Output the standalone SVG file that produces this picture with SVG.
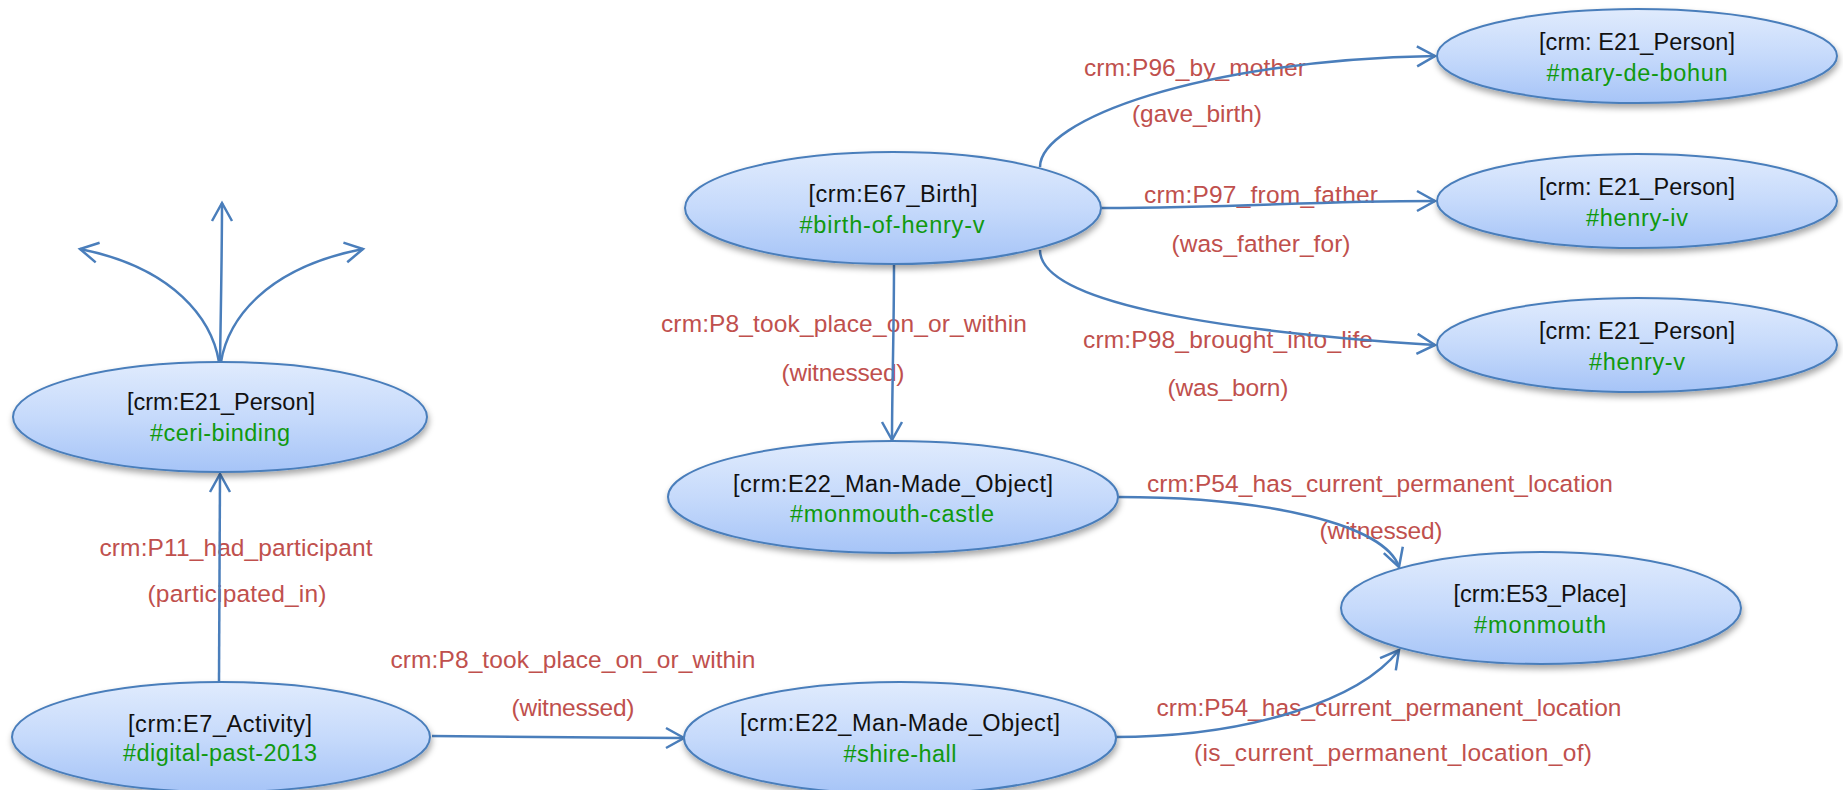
<svg xmlns="http://www.w3.org/2000/svg" width="1843" height="790" viewBox="0 0 1843 790">
  <style>
    .node ellipse { fill: url(#nodeFill); stroke: #4a7ebb; stroke-width: 2; filter: url(#shadow); }
    .node text { font-family: "Liberation Sans", Arial, sans-serif; font-size: 23.5px; text-anchor: middle; }
    .node .type { fill: #111111; }
    .node .id { fill: #10990f; }
    .edge { fill: none; stroke: #4a7ebb; stroke-width: 2.5; marker-end: url(#arrow); }
    .label { font-family: "Liberation Sans", Arial, sans-serif; font-size: 24.5px; fill: #c0504d; text-anchor: middle; }
  </style>
  <defs>
    <linearGradient id="nodeFill" x1="0" y1="0" x2="0" y2="1">
      <stop offset="0" stop-color="#e0ebfd"/>
      <stop offset="0.5" stop-color="#c6dafb"/>
      <stop offset="1" stop-color="#a6c4f7"/>
    </linearGradient>
    <filter id="shadow" x="-10%" y="-20%" width="120%" height="150%">
      <feDropShadow dx="1" dy="4" stdDeviation="3" flood-color="#000000" flood-opacity="0.35"/>
    </filter>
    <marker id="arrow" markerUnits="userSpaceOnUse" viewBox="-21 -12 24 24" markerWidth="24" markerHeight="24" refX="0" refY="0" orient="auto">
      <path d="M-18,-10 L0,0 L-18,10" fill="none" stroke="#4a7ebb" stroke-width="2.5" stroke-linejoin="miter"/>
    </marker>
  </defs>

  <rect width="1843" height="790" fill="#ffffff"/>

  <!-- property labels, then the arcs drawn over them -->
  <g id="connectors">
    <text class="label" x="1195" y="76" textLength="222">crm:P96_by_mother</text>
    <text class="label" x="1197" y="122" textLength="130">(gave_birth)</text>
    <text class="label" x="1261" y="203" textLength="234">crm:P97_from_father</text>
    <text class="label" x="1261" y="252" textLength="179">(was_father_for)</text>
    <text class="label" x="1228" y="348" textLength="290">crm:P98_brought_into_life</text>
    <text class="label" x="1228" y="396" textLength="121">(was_born)</text>
    <text class="label" x="844" y="332" textLength="366">crm:P8_took_place_on_or_within</text>
    <text class="label" x="843" y="381" textLength="123">(witnessed)</text>
    <text class="label" x="236" y="556" textLength="273">crm:P11_had_participant</text>
    <text class="label" x="237" y="602" textLength="179">(participated_in)</text>
    <text class="label" x="573" y="668" textLength="365">crm:P8_took_place_on_or_within</text>
    <text class="label" x="573" y="716" textLength="123">(witnessed)</text>
    <text class="label" x="1380" y="492" textLength="466">crm:P54_has_current_permanent_location</text>
    <text class="label" x="1381" y="539" textLength="123">(witnessed)</text>
    <text class="label" x="1389" y="716" textLength="465">crm:P54_has_current_permanent_location</text>
    <text class="label" x="1393" y="761" textLength="398">(is_current_permanent_location_of)</text>

    <!-- open-ended properties leaving the person node -->
    <path class="edge" d="M220,362 C221,300 222,250 222,203"/>
    <path class="edge" d="M219,362 C212,320 175,268 80,249"/>
    <path class="edge" d="M221,362 C228,320 265,268 363,249"/>

    <!-- birth event -->
    <path class="edge" d="M1040,167 C1040,120 1200,60 1435,56"/>
    <path class="edge" d="M1101,208 C1250,208 1300,201 1435,201"/>
    <path class="edge" d="M1040,250 C1040,300 1200,330 1435,345"/>
    <path class="edge" d="M894,264 C894,330 892,390 892,440"/>

    <!-- locations -->
    <path class="edge" d="M1118,497 C1270,497 1385,525 1399,567"/>
    <path class="edge" d="M1114,737 C1250,737 1360,700 1399,650"/>

    <!-- activity -->
    <path class="edge" d="M219,681 C220,600 220,530 220,474"/>
    <path class="edge" d="M432,736 C520,736 600,738 684,738"/>
  </g>

  <g id="ceri-binding" class="node">
    <ellipse cx="220" cy="417" rx="207" ry="55"/>
    <text class="type" x="221" y="410" textLength="188">[crm:E21_Person]</text>
    <text class="id" x="220" y="441" textLength="140">#ceri-binding</text>
  </g>

  <g id="birth-of-henry-v" class="node">
    <ellipse cx="893" cy="208" rx="208" ry="56"/>
    <text class="type" x="893" y="202" textLength="169">[crm:E67_Birth]</text>
    <text class="id" x="892" y="233" textLength="185">#birth-of-henry-v</text>
  </g>

  <g id="mary-de-bohun" class="node">
    <ellipse cx="1637" cy="56" rx="200" ry="47"/>
    <text class="type" x="1637" y="50" textLength="196">[crm: E21_Person]</text>
    <text class="id" x="1637" y="81" textLength="181">#mary-de-bohun</text>
  </g>

  <g id="henry-iv" class="node">
    <ellipse cx="1637" cy="201" rx="200" ry="47"/>
    <text class="type" x="1637" y="195" textLength="196">[crm: E21_Person]</text>
    <text class="id" x="1637" y="226" textLength="102">#henry-iv</text>
  </g>

  <g id="henry-v" class="node">
    <ellipse cx="1637" cy="345" rx="200" ry="47"/>
    <text class="type" x="1637" y="339" textLength="196">[crm: E21_Person]</text>
    <text class="id" x="1637" y="370" textLength="96">#henry-v</text>
  </g>

  <g id="monmouth-castle" class="node">
    <ellipse cx="893" cy="497" rx="225" ry="56"/>
    <text class="type" x="893" y="492" textLength="320">[crm:E22_Man-Made_Object]</text>
    <text class="id" x="892" y="522" textLength="204">#monmouth-castle</text>
  </g>

  <g id="monmouth" class="node">
    <ellipse cx="1541" cy="608" rx="200" ry="56"/>
    <text class="type" x="1540" y="602" textLength="173">[crm:E53_Place]</text>
    <text class="id" x="1540" y="633" textLength="132">#monmouth</text>
  </g>

  <g id="digital-past-2013" class="node">
    <ellipse cx="221" cy="737" rx="209" ry="55"/>
    <text class="type" x="220" y="732" textLength="184">[crm:E7_Activity]</text>
    <text class="id" x="220" y="761" textLength="194">#digital-past-2013</text>
  </g>

  <g id="shire-hall" class="node">
    <ellipse cx="900" cy="738" rx="216" ry="56"/>
    <text class="type" x="900" y="731" textLength="320">[crm:E22_Man-Made_Object]</text>
    <text class="id" x="900" y="762" textLength="113">#shire-hall</text>
  </g>
</svg>
